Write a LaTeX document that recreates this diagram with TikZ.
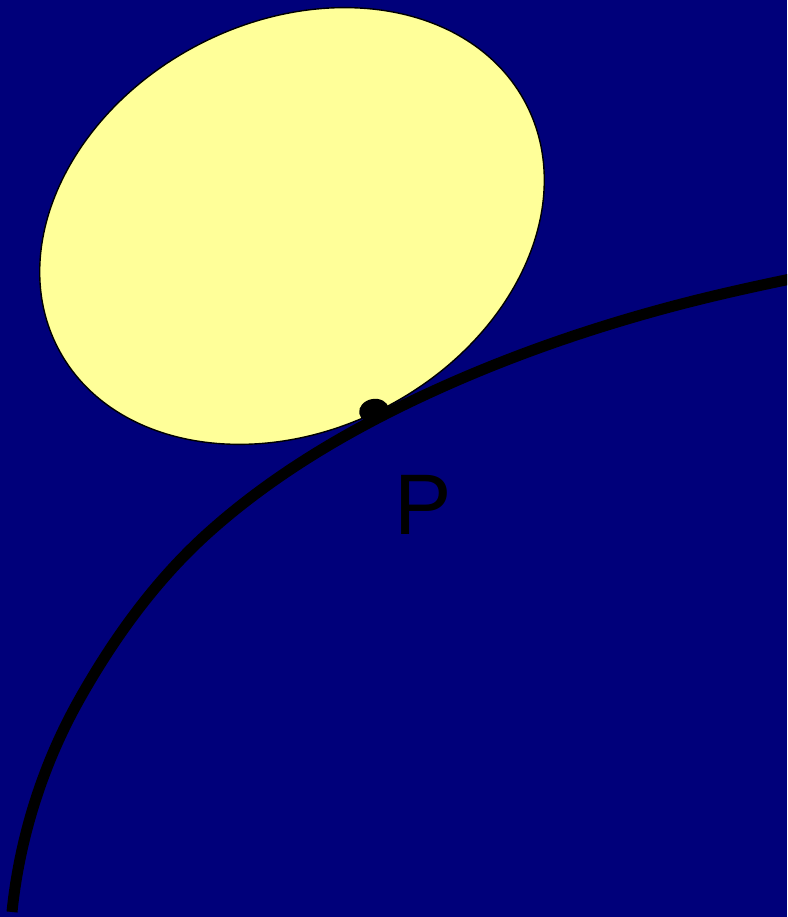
\documentclass[tikz,border=0pt]{standalone}
\usepackage{fontspec}
\setsansfont{Liberation Sans}
\usetikzlibrary{shapes.geometric}
\definecolor{bgnavy}{RGB}{0,0,122}
\definecolor{paleyellow}{RGB}{255,255,153}
\tikzset{
  curveline/.style={line width=11pt, black, line cap=butt},
  blob/.style={draw=black, line width=1.4pt, fill=paleyellow},
  plabel/.style={font=\sffamily\fontsize{86}{86}\selectfont, inner sep=0pt, text=black}
}
\begin{document}
\begin{tikzpicture}[x=1pt,y=1pt]
\useasboundingbox (0,0) rectangle (787,917);
\fill[bgnavy] (0,0) rectangle (787,917);
\clip (0,0) rectangle (787,917);
% yellow ellipse
\draw[blob, rotate around={27.7:(292,691)}] (292,691) ellipse [x radius=264pt, y radius=204pt];
% curve knots
\coordinate (k0) at (12,5);
\coordinate (k1) at (79,217);
\coordinate (k2) at (208,384);
\coordinate (k3) at (440,529);
\coordinate (k4) at (670,610);
\coordinate (k5) at (830,646);
\draw[curveline] (k0)
  .. controls (19.4,78.7) and (42.7,152.4) .. (k1)
  .. controls (113.4,278.3) and (155.7,337.0) .. (k2)
  .. controls (275.8,445.0) and (356.8,491.6) .. (k3)
  .. controls (514.1,562.4) and (591.5,589.0) .. (k4)
  .. controls (722.8,624.1) and (776.4,635.3) .. (k5);
% point P
\coordinate (pdot) at (374,506);
\fill[black, rotate around={10:(pdot)}] (pdot) ellipse [x radius=15pt, y radius=12pt];
\node[plabel] (plab) at (423,412) {P};
\end{tikzpicture}
\end{document}
